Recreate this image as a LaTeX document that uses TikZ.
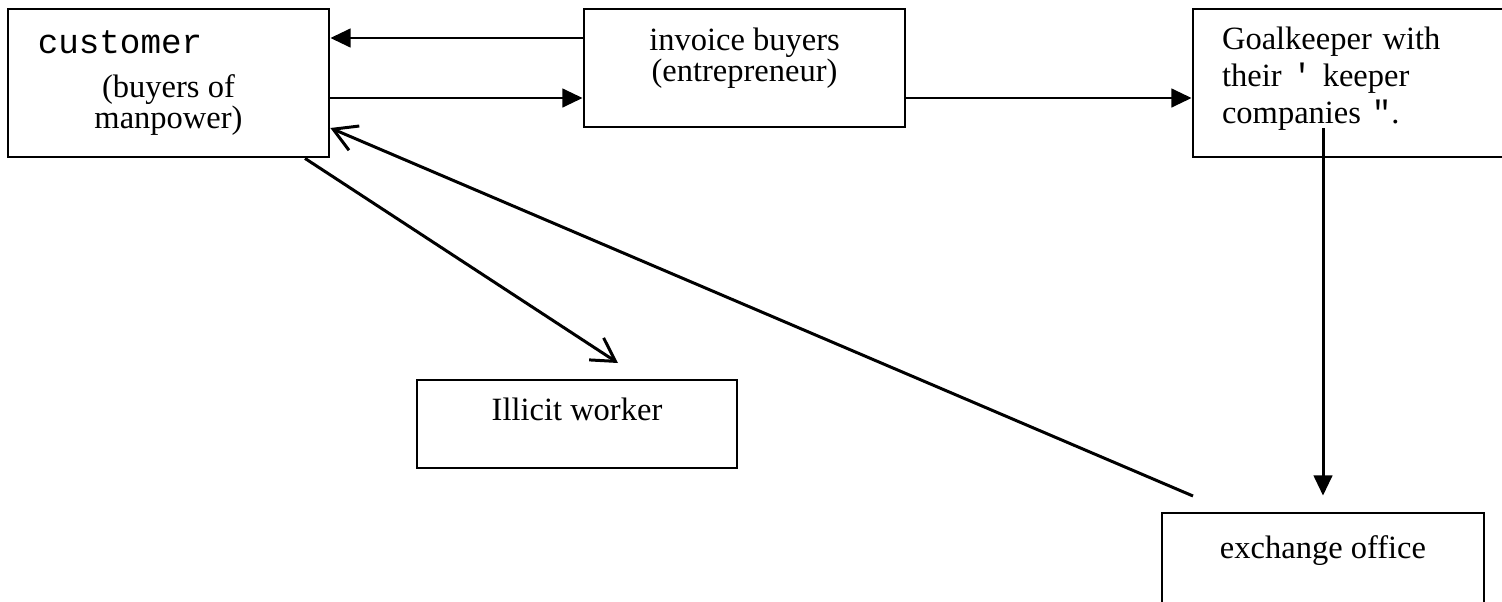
\documentclass[tikz,border=0pt]{standalone}
\usepackage{fontspec}
\setmainfont{Liberation Serif}
\setmonofont{Liberation Mono}
\usetikzlibrary{arrows.meta,positioning}
\newcommand{\padbelow}[1]{\rule[-#1]{0pt}{#1}}

\begin{document}
\begin{tikzpicture}[
x=0.02cm, y=-0.02cm,
font=\fontsize{18.5}{17.5}\selectfont,
box/.style={draw, line width=1.6pt, inner sep=0pt, align=center},
solidflow/.style={line width=1.7pt, -{Triangle[length=11.5pt,width=10.5pt]}},
openflow/.style={line width=1.7pt, -{Straight Barb[length=13pt,width=15pt]}}
]
    % page
    \useasboundingbox (0,0) rectangle (1502,602);

    % boxes
    \node[box, minimum width=6.42cm, minimum height=2.96cm] (customer) at (168.5,83)
        {{\ttfamily\fontsize{19.5}{17}\selectfont customer}\hspace*{1.94cm}\\[8pt](buyers of\\manpower)};
    \node[box, minimum width=6.42cm, minimum height=2.36cm] (invoice) at (744.5,68)
        {invoice buyers\\(entrepreneur)\padbelow{15pt}};
    \node[box, minimum width=6.54cm, minimum height=2.96cm, text width=5.38cm,
        inner xsep=0.58cm, align=left, font=\fontsize{18.5}{21.2}\selectfont] (keeper) at (1356.5,83)
        {Goalkeeper with\\their {\ttfamily'} keeper\\companies {\ttfamily"}.\padbelow{9pt}};
    \node[box, minimum width=6.4cm, minimum height=1.76cm] (illicit) at (577,424)
        {Illicit worker\padbelow{16.4pt}};
    \node[box, minimum width=6.44cm, minimum height=2cm] (exchange) at (1323,563)
        {exchange office\padbelow{17.6pt}};

    % links between the boxes
    \coordinate (kdrop) at (1323,128);
    \coordinate (cashfrom) at (1193,496);
    \coordinate (wtip) at (618,363);
    \draw[solidflow] (invoice.west |- 0,38) -- (customer.east |- 0,38);
    \draw[solidflow] (customer.east |- 0,98) -- (invoice.west |- 0,98);
    \draw[solidflow] (invoice.east |- 0,98) -- (keeper.west |- 0,98);
    \draw[solidflow, shorten >=0.32cm] (kdrop) -- (exchange.north);
    \draw[openflow] (cashfrom) -- (customer.east |- 0,128);
    \draw[openflow] (customer.south -| 305,0) -- (wtip);
\end{tikzpicture}
\end{document}
